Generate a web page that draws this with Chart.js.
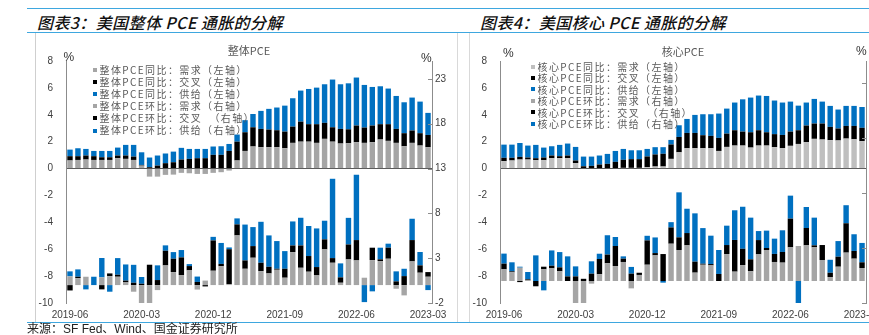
<!DOCTYPE html>
<html lang="zh-CN">
<head>
<meta charset="UTF-8">
<title>美国PCE通胀的分解</title>
<script src="https://cdn.jsdelivr.net/npm/chart.js@4.4.0/dist/chart.umd.min.js"></script>
<style>
  body { margin: 0; width: 869px; height: 335px; overflow: hidden; position: relative; background: #fff;
         font-family: "Liberation Sans", "Noto Sans CJK SC", sans-serif; }
  .abs { position: absolute; white-space: nowrap; }
  .hline { position: absolute; left: 27px; width: 842px; height: 0; border-top: 1.5px solid #3ea7df; }
  .head { top: 12px; font: italic 500 16px/20px "Noto Sans CJK SC", sans-serif; color: #111; letter-spacing: 0.4px; }
  .frame { position: absolute; top: 33px; height: 289px; }
  canvas { position: absolute; top: 34px; }
  .ctitle { font: 11px/14px "Noto Sans CJK SC", sans-serif; color: #595959; transform: translateX(-50%); }
  .pct { font: 12px/14px "Liberation Sans", sans-serif; color: #333; }
  .legend { font: 10px "Noto Sans CJK SC", sans-serif; color: #595959; letter-spacing: 1.4px; }
  .legend div { position: relative; white-space: pre; padding-left: 6.5px; }
  .legend i { position: absolute; left: 0; width: 4px; height: 4px; }
  .src { left: 27px; top: 322px; font-size: 12px; line-height: 14px; color: #222; }
</style>
</head>
<body>
<div class="hline" style="top:8px"></div>
<div class="hline" style="top:31.5px"></div>
<div class="abs head" style="left:37px">图表3：美国整体 PCE 通胀的分解</div>
<div class="abs head" style="left:480px">图表4：美国核心 PCE 通胀的分解</div>

<div class="frame" style="left:35px; width:421px; border-left:1px solid #cfcfcf; border-right:1px solid #d9d9d9;"></div>
<div class="frame" style="left:469px; width:420px; border-left:1px solid #d9d9d9;"></div>

<canvas id="headChart" width="420" height="288" style="left:36px"></canvas>
<canvas id="coreChart" width="420" height="288" style="left:470px"></canvas>

<div class="abs ctitle" style="left:249px; top:43px">整体PCE</div>
<div class="abs pct" style="left:63.5px; top:50px">%</div>
<div class="abs pct" style="left:421px; top:51px">%</div>
<div class="abs legend" id="headLegend" style="left:93px; top:64px"></div>

<div class="abs ctitle" style="left:683px; top:44px">核心PCE</div>
<div class="abs pct" style="left:503px; top:46px">%</div>
<div class="abs pct" style="left:856px; top:44px">%</div>
<div class="abs legend" id="coreLegend" style="left:531px; top:61px"></div>

<div class="hline" style="top:321.5px"></div>
<div class="abs src">来源：SF Fed、Wind、国金证券研究所</div>

<script>
// 月份 2019-06 至 2023-03
const months = [
  '2019-06','2019-07','2019-08','2019-09','2019-10','2019-11','2019-12',
  '2020-01','2020-02','2020-03','2020-04','2020-05','2020-06','2020-07','2020-08','2020-09','2020-10','2020-11','2020-12',
  '2021-01','2021-02','2021-03','2021-04','2021-05','2021-06','2021-07','2021-08','2021-09','2021-10','2021-11','2021-12',
  '2022-01','2022-02','2022-03','2022-04','2022-05','2022-06','2022-07','2022-08','2022-09','2022-10','2022-11','2022-12',
  '2023-01','2023-02','2023-03'
];
const xTickLabels = ['2019-06', '2020-03', '2020-12', '2021-09', '2022-06', '2023-03'];
const headRightTicks = [-2, 3, 8, 13, 18, 23];
const coreRightTicks = [-2, 3, 8, 13, 18];

// 整体PCE 同比（左轴）
const headYoyDemand = [0.60,0.64,0.67,0.64,0.64,0.64,0.77,0.72,0.64,0.22,-0.60,-0.60,-0.47,-0.45,-0.32,-0.35,-0.40,-0.40,-0.32,-0.27,-0.15,0.60,1.31,1.64,1.59,1.59,1.59,1.51,1.91,2.00,2.00,1.91,2.21,2.00,1.86,1.88,1.96,1.91,1.96,2.16,2.06,1.91,1.66,1.91,1.71,1.59];
const headYoyCross  = [0.32,0.28,0.30,0.28,0.20,0.20,0.20,0.25,0.25,0.05,0.10,0.22,0.40,0.47,0.67,0.72,0.77,0.77,1.02,1.02,1.31,1.40,1.39,1.43,1.36,1.31,1.26,1.24,1.21,1.49,1.30,1.39,1.19,1.07,1.09,1.04,1.24,1.14,1.24,1.14,1.24,1.04,0.97,0.92,0.92,0.91];
const headYoySupply = [0.49,0.59,0.49,0.39,0.47,0.47,0.59,0.79,0.87,0.94,0.72,0.75,0.72,0.79,0.87,0.74,0.69,0.69,0.62,0.64,0.52,0.53,0.90,0.99,1.34,1.54,1.69,1.93,2.11,2.31,2.62,2.72,2.87,3.55,3.32,3.42,3.57,3.17,2.87,2.82,2.65,2.45,2.30,2.45,2.35,1.64];
// 整体PCE 环比（右轴）
const headMomDemand = [0.97,0.78,0.93,0,0.86,1.00,0.93,0.30,-0.74,-2.10,-2.10,-0.56,2.19,1.45,1.12,1.64,-0.50,0.50,1.60,2.10,0.10,5.54,1.82,3.05,1.56,1.30,1.71,0.82,3.68,1.93,1.49,1.08,3.98,2.49,0.26,2.86,2.75,0.82,2.79,2.68,2.94,-0.41,-1.15,2.64,1.38,0.93];
const headMomCross  = [-0.60,0.15,0,0,-0.48,0.30,0.22,0.20,0.26,0.15,2.27,0.56,1.64,1.49,1.97,0.48,0.35,-0.15,3.38,0.26,3.90,1.23,0.93,1.30,0.93,0.74,0.11,1.00,0.74,2.49,1.75,0.93,1.12,0.52,0.60,1.67,2.27,0,1.38,0.19,1.23,0.41,1.00,2.38,0.82,0.52];
const headMomSupply = [0.56,0.82,-0.48,0.93,2.16,-0.74,1.86,1.80,2.00,0.75,0,1.64,0.60,0.74,0.82,0.22,0.60,0,0.40,2.34,0.20,0.67,4.00,2.12,4.57,3.50,3.09,1.97,2.68,3.09,3.35,4.31,2.08,8.85,1.56,2.97,7.29,-1.90,-0.70,1.30,0.45,1.12,0.82,2.38,1.49,-0.56];

// 核心PCE 同比（左轴）
const coreYoyDemand = [0.55,0.60,0.67,0.67,0.62,0.62,0.77,0.77,0.77,0.40,0.02,0,0,0,0,0.05,0.05,0.05,0.10,0.15,0.15,0.72,1.21,1.51,1.51,1.51,1.51,1.31,1.61,1.71,1.71,1.56,1.71,1.71,1.59,1.51,1.69,1.83,1.96,2.21,2.16,2.11,2.09,2.23,2.18,2.04];
const coreYoyCross  = [0.25,0.20,0.20,0.15,0.15,0.20,0.20,0.15,0.20,0.20,0.15,0.20,0.30,0.35,0.50,0.60,0.65,0.65,0.80,0.90,0.95,1.07,1.14,1.14,1.14,0.97,0.92,0.97,0.99,1.14,1.04,1.14,1.14,0.99,0.97,0.99,1.06,1.02,1.24,1.14,1.19,0.99,0.89,0.94,0.99,0.99];
const coreYoySupply = [0.98,0.98,1.03,0.89,0.99,0.74,0.69,0.84,0.89,1.01,0.72,0.69,0.67,0.74,0.81,0.81,0.66,0.66,0.56,0.54,0.49,0.34,0.87,1.04,1.34,1.56,1.61,1.81,1.86,2.06,2.40,2.58,2.58,2.70,2.50,2.41,2.23,1.83,1.71,1.83,1.63,1.56,1.41,1.49,1.49,1.55];
// 核心PCE 环比（右轴）
const coreMomDemand = [1.06,0.79,1.21,0.06,0,1.06,1.15,0.88,0,-2.10,-2.10,-0.24,0.61,1.61,1.36,1.73,-0.67,0.55,1.48,2.33,0,3.39,2.82,3.24,0.76,1.48,1.42,0,2.45,0.85,1.45,0.88,2.42,2.82,1.73,1.67,3.06,3.18,3.24,3.06,1.91,0.36,1.30,2.58,2.03,1.18];
const coreMomCross  = [0.52,0.09,-0.10,0.09,-0.48,0.24,0.24,0.36,0.42,0.42,0.20,0.67,1.39,0.79,1.82,0.30,0.67,0.20,2.21,0.21,2.45,1.48,1.15,1.12,1.00,0.09,0.12,0.64,0.82,2.88,1.48,1.09,1.30,0.18,0.73,0.97,2.61,0,1.58,0.18,1.36,0.39,0.91,2.67,0.70,0.52];
const coreMomSupply = [0.91,0.82,0.09,0.67,2.33,-0.85,1.39,1.39,1.82,0.91,0,1.12,0.48,1.76,0.82,0.21,0.61,0,0.42,1.42,-0.15,0.48,4.09,2.21,4.39,3.24,2.58,2.18,1.76,2.70,3.82,3.79,0.82,1.58,1.39,1.97,2.09,-2.10,1.91,2.52,0,1.18,1.42,1.64,1.52,1.76];

const headNames = ['整体PCE同比：需求（左轴）', '整体PCE同比：交叉（左轴）', '整体PCE同比：供给（左轴）',
                   '整体PCE环比：需求（右轴）', '整体PCE环比：交叉  （右轴）', '整体PCE环比：供给（右轴）'];
const coreNames = ['核心PCE同比：需求（左轴）', '核心PCE同比：交叉（左轴）', '核心PCE同比：供给（左轴）',
                   '核心PCE环比：需求（右轴）', '核心PCE环比：交叉  （右轴）', '核心PCE环比：供给（右轴）'];
const headColors = ['#a5a5a5', '#000000', '#0070c0', '#a5a5a5', '#000000', '#0070c0'];
const coreColors = ['#bfbfbf', '#000000', '#0070c0', '#a5a5a5', '#000000', '#0070c0'];

Chart.defaults.font.family = '"Liberation Sans", Arial, sans-serif';
Chart.defaults.font.size = 10;
Chart.defaults.color = '#404040';

// 右轴朝内的小刻度
const innerTicks = {
  id: 'innerTicks',
  afterDraw(chart) {
    const s = chart.scales.y1, ctx = chart.ctx;
    ctx.save();
    ctx.strokeStyle = '#8c8c8c';
    ctx.lineWidth = 1;
    s.ticks.forEach(t => {
      const y = Math.round(s.getPixelForValue(t.value)) + 0.5;
      ctx.beginPath();
      ctx.moveTo(s.left - 4, y);
      ctx.lineTo(s.left, y);
      ctx.stroke();
    });
    ctx.restore();
  }
};

function fillLegend(id, names, colors, rowH) {
  const box = document.getElementById(id);
  names.forEach((n, k) => {
    const d = document.createElement('div');
    d.style.height = rowH + 'px';
    d.style.lineHeight = rowH + 'px';
    d.innerHTML = '<i style="background:' + colors[k] + ';top:' + (rowH / 2 - 2) + 'px"></i>';
    d.appendChild(document.createTextNode(n));
    box.appendChild(d);
  });
}

function makeChart(id, series, names, colors, rightTicks, rightMax) {
  new Chart(document.getElementById(id), {
    type: 'bar',
    data: {
      labels: months,
      datasets: series.map((d, k) => ({
        label: names[k],
        data: d,
        backgroundColor: colors[k],
        yAxisID: k < 3 ? 'y' : 'y1',
        stack: 'all',
        barPercentage: 0.68,
        categoryPercentage: 1
      }))
    },
    options: {
      responsive: false,
      animation: false,
      layout: { padding: { top: 27, left: 0, right: 0, bottom: 0 } },
      plugins: { legend: { display: false }, tooltip: { enabled: false } },
      scales: {
        x: {
          stacked: true,
          grid: { display: false, drawTicks: false },
          border: { display: false },
          ticks: {
            autoSkip: false, maxRotation: 0, padding: 6,
            callback: (v, i) => xTickLabels.includes(months[i]) ? months[i] : null
          },
          afterFit: s => { s.height = 19; }
        },
        y: {
          position: 'left',
          stacked: true,
          min: -10, max: 8,
          ticks: { stepSize: 2, padding: 13 },
          grid: { drawTicks: false, color: c => c.tick && c.tick.value === 0 ? '#595959' : 'rgba(0,0,0,0)' },
          border: { color: '#8c8c8c' },
          afterFit: s => { s.width = 30; }
        },
        y1: {
          position: 'right',
          stacked: true,
          min: -2, max: rightMax,
          afterBuildTicks: s => { s.ticks = rightTicks.map(v => ({ value: v })); },
          ticks: { padding: 3 },
          grid: { drawOnChartArea: false, drawTicks: false },
          border: { color: '#8c8c8c' },
          afterFit: s => { s.width = 24; }
        }
      }
    },
    plugins: [innerTicks]
  });
}

fillLegend('headLegend', headNames, headColors, 12.1);
fillLegend('coreLegend', coreNames, coreColors, 11.4);

makeChart('headChart',
  [headYoyDemand, headYoyCross, headYoySupply, headMomDemand, headMomCross, headMomSupply],
  headNames, headColors, headRightTicks, 25);
makeChart('coreChart',
  [coreYoyDemand, coreYoyCross, coreYoySupply, coreMomDemand, coreMomCross, coreMomSupply],
  coreNames, coreColors, coreRightTicks, 20);
</script>
</body>
</html>
